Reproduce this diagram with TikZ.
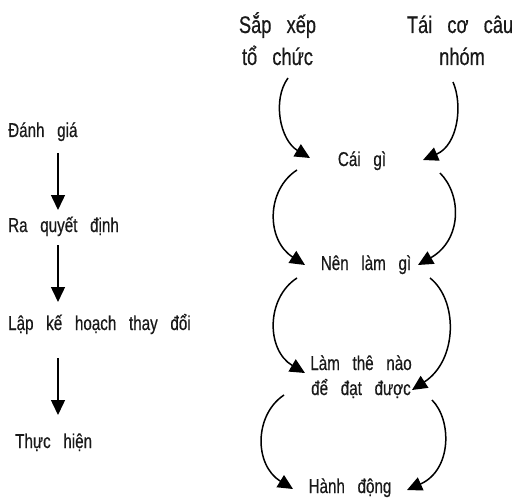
\documentclass[tikz,border=0pt]{standalone}
\usepackage{fontspec}
\setmainfont{Liberation Sans}[FakeStretch=0.76, WordSpace=3.0, FakeBold=0.5]
\usetikzlibrary{arrows.meta}
\tikzset{
  lbl/.style={inner sep=0pt, anchor=base, text=black!90, font=\fontsize{20}{24}\selectfont},
  biglbl/.style={lbl, font=\fontsize{24}{28}\selectfont},
  leftlbl/.style={lbl, anchor=base west},
  arr/.style={line width=1.5pt, draw=black, -{Triangle[length=15pt,width=14pt]}},
}
\begin{document}
\begin{tikzpicture}[x=1pt,y=-1pt]
\useasboundingbox (0,0) rectangle (513,497);
% left column
\node[leftlbl] (dg) at (8,137) {Đánh giá};
\node[leftlbl] (rq) at (8,232) {Ra quyết định};
\node[leftlbl] (lk) at (8,330) {Lập kế hoạch thay đổi};
\node[leftlbl] (th) at (15,448) {Thực hiện};
\draw[arr] ([shift={(50,16)}]dg.base west) -- ([shift={(50,-22)}]rq.base west);
\draw[arr] ([shift={(50,13)}]rq.base west) -- ([shift={(50,-28)}]lk.base west);
\draw[arr] ([shift={(50,28)}]lk.base west) -- ([shift={(43,-33)}]th.base west);
% right column
\node[biglbl] (sx1) at (277.5,33) {Sắp xếp};
\node[biglbl] (sx2) at (277.5,65) {tổ chức};
\node[biglbl] (tc1) at (460,33) {Tái cơ câu};
\node[biglbl] (tc2) at (462,65) {nhóm};
\node[lbl] (cg) at (362,166) {Cái gì};
\node[lbl] (nl) at (366,270) {Nên làm gì};
\node[lbl] (lt1) at (361,370) {Làm thê nào};
\node[lbl] (lt2) at (361,395) {để đạt được};
\node[lbl] (hd) at (350,493) {Hành động};
% curves
\draw[arr] ([shift={(10.5,13)}]sx2.base) .. controls +(-16,22) and +(-30,-18) .. ([shift={(-52,-8)}]cg.base);
\draw[arr] ([shift={(-9,17)}]tc2.base) .. controls +(10,23) and +(35,-15) .. ([shift={(61,-6)}]cg.base);
\draw[arr] ([shift={(-65,4)}]cg.base) .. controls +(-31,20) and +(-39,-25) .. ([shift={(-61,-5)}]nl.base);
\draw[arr] ([shift={(78,7)}]cg.base) .. controls +(22,22) and +(44,-25) .. ([shift={(52,-5)}]nl.base);
\draw[arr] ([shift={(-69,8)}]nl.base) .. controls +(-31,20) and +(-39,-23) .. ([shift={(-56,3)}]lt1.base);
\draw[arr] ([shift={(64,8)}]nl.base) .. controls +(28,22) and +(46,-30) .. ([shift={(51,-5)}]lt2.base);
\draw[arr] ([shift={(-77,0)}]lt2.base) .. controls +(-30,20) and +(-39,-24) .. ([shift={(-57,-4)}]hd.base);
\draw[arr] ([shift={(71,5)}]lt2.base) .. controls +(20,20) and +(45,-20) .. ([shift={(57,-3)}]hd.base);
\end{tikzpicture}
\end{document}
